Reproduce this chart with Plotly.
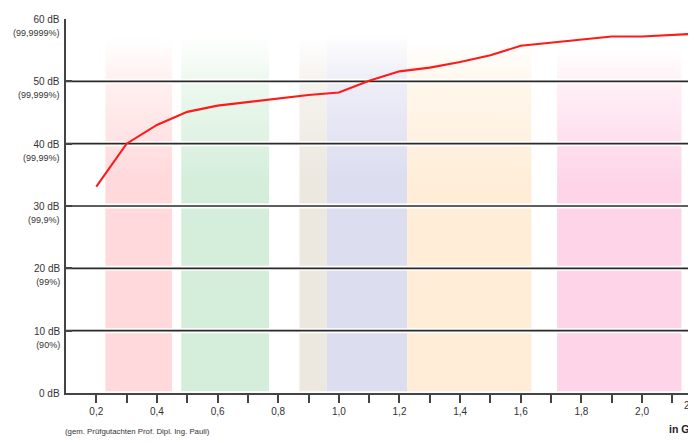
import plotly.graph_objects as go

# ---- data ----
freq_ghz = [0.2, 0.3, 0.4, 0.5, 0.6, 0.7, 0.8, 0.9, 1.0, 1.1, 1.2, 1.3, 1.4, 1.5,
            1.6, 1.7, 1.8, 1.9, 2.0, 2.1, 2.2]
atten_db = [33.1, 40.0, 43.0, 45.1, 46.1, 46.7, 47.3, 47.8, 48.2, 50.1, 51.6, 52.2,
            53.1, 54.2, 55.7, 56.2, 56.7, 57.2, 57.2, 57.4, 57.7]

band_start = [0.23, 0.48, 0.87, 0.96, 1.225, 1.72]
band_end = [0.45, 0.77, 0.96, 1.225, 1.635, 2.13]
band_top = [57.0, 57.5, 57.0, 57.8, 56.5, 55.5]
band_color = ["#ffd9dc", "#d5eedc", "#ece7df", "#dcddef", "#ffedd8", "#fdd4e8"]
band_fade = ["#fff1f0", "#eff9f0", "#f6f3ef", "#efeff8", "#fff7ec", "#ffeef5"]

y_ticks = [0, 10, 20, 30, 40, 50, 60]
y_main = ["0 dB", "10 dB", "20 dB", "30 dB", "40 dB", "50 dB", "60 dB"]
y_sub = ["", "(90%)", "(99%)", "(99,9%)", "(99,99%)", "(99,999%)", "(99,9999%)"]
grid_vals = [10, 20, 30, 40, 50]

x_ticks = [round(0.2 + 0.1 * i, 1) for i in range(20)]
x_labels = [f"{v:.1f}".replace(".", ",") if i % 2 == 0 else "" for i, v in enumerate(x_ticks)]

x_range = [0.1, 2.178]
y_range = [0, 60]

font_family = "Liberation Sans"
text_color = "#333333"

fig = go.Figure()

# colour bands (vertical fade)
for s, e, t, c, f in zip(band_start, band_end, band_top, band_color, band_fade):
    fig.add_trace(go.Scatter(
        x=[s, e, e, s, s], y=[0.3, 0.3, t, t, 0.3],
        mode="lines", line=dict(width=0), fill="toself",
        fillgradient=dict(type="vertical", start=0, stop=t,
                          colorscale=[[0, c], [0.6, c], [0.88, f], [1, "#ffffff"]]),
        hoverinfo="skip", showlegend=False))

# grid lines with white halo
for v in grid_vals:
    fig.add_trace(go.Scatter(x=x_range, y=[v, v], mode="lines",
                             line=dict(color="#ffffff", width=5),
                             hoverinfo="skip", showlegend=False))
for v in grid_vals:
    fig.add_trace(go.Scatter(x=x_range, y=[v, v], mode="lines",
                             line=dict(color="#2a2a2a", width=1.7),
                             hoverinfo="skip", showlegend=False))

# measured curve
fig.add_trace(go.Scatter(x=freq_ghz, y=atten_db, mode="lines",
                         line=dict(color="#ff1a1a", width=2.1),
                         showlegend=False))

fig.update_xaxes(range=x_range, tickmode="array", tickvals=x_ticks, ticktext=x_labels,
                 ticks="outside", ticklen=8, tickwidth=1.8, tickcolor="#444444",
                 showline=True, linecolor="#444444", linewidth=2,
                 showgrid=False, zeroline=False, automargin=False,
                 tickfont=dict(family=font_family, size=10, color=text_color))
fig.update_yaxes(range=y_range, tickmode="array", tickvals=y_ticks,
                 ticktext=[""] * len(y_ticks),
                 ticks="inside", ticklen=6, tickwidth=1.8, tickcolor="#444444",
                 showline=True, linecolor="#444444", linewidth=2,
                 showgrid=False, zeroline=False, automargin=False)

# y tick labels: first line at the tick, percentage below
for v, m, s in zip(y_ticks, y_main, y_sub):
    txt = m if not s else f"{m}<br><span style='font-size:9px'>{s}</span>"
    fig.add_annotation(x=0, xref="paper", xanchor="right", xshift=-4,
                       y=v, yref="y", yanchor="top" if s else "middle",
                       yshift=7 if s else 0, text=txt, align="right",
                       showarrow=False,
                       font=dict(family=font_family, size=10, color=text_color))

# partially visible last tick label (chart is cropped at the right edge)
fig.add_annotation(x=(2.2 - x_range[0]) / (x_range[1] - x_range[0]), xref="paper",
                   xshift=-3, y=0, yref="paper", yshift=-20, text="2,2", showarrow=False,
                   font=dict(family=font_family, size=10, color=text_color))

fig.add_annotation(x=1, xref="paper", xanchor="left", xshift=-29, y=0, yref="paper",
                   yshift=-44, text="<b>in GHz</b>", showarrow=False,
                   font=dict(family=font_family, size=10.5, color="#222222"))
fig.add_annotation(x=0, xref="paper", xanchor="left", xshift=-3, y=0, yref="paper",
                   yshift=-45, text="(gem. Prüfgutachten Prof. Dipl. Ing. Pauli)",
                   showarrow=False,
                   font=dict(family=font_family, size=7.8, color=text_color))

# the page body has an 8px margin: size the figure so it fills the 696x443 window
fig.update_layout(width=688, height=435, margin=dict(l=58, r=0, t=11, b=50),
                  plot_bgcolor="#ffffff", paper_bgcolor="#ffffff",
                  font=dict(family=font_family, color=text_color))

fig.write_html("out.html")
